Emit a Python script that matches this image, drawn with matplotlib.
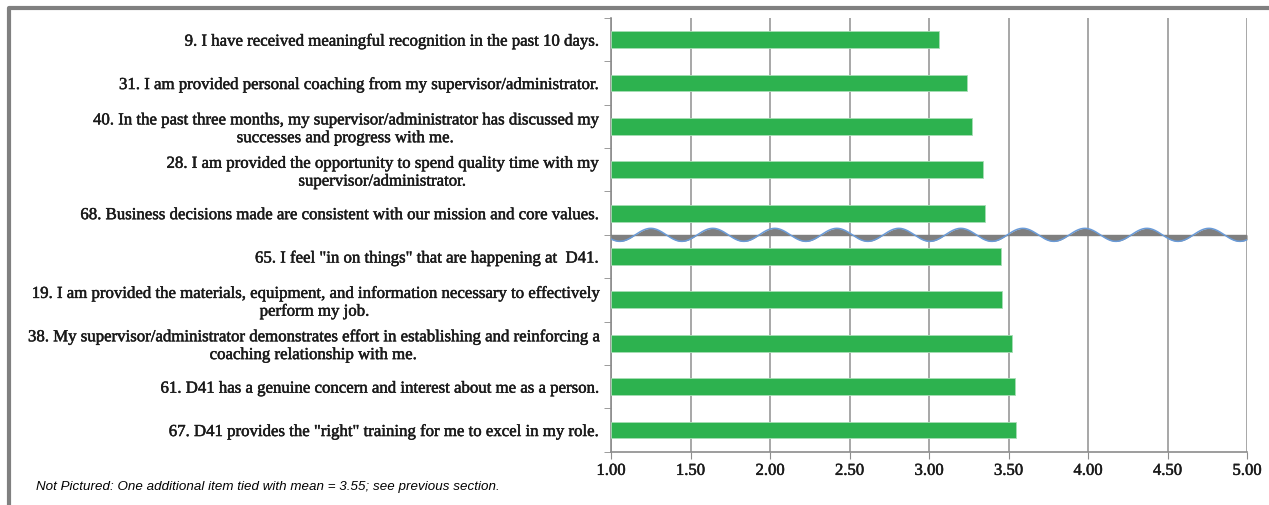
import numpy as np
import matplotlib.pyplot as plt
import matplotlib.patheffects as pe
from matplotlib.lines import Line2D

# Survey items, lowest mean at the top
items = [
    "9. I have received meaningful recognition in the past 10 days.",
    "31. I am provided personal coaching from my supervisor/administrator.",
    "40. In the past three months, my supervisor/administrator has discussed my\nsuccesses and progress with me.",
    "28. I am provided the opportunity to spend quality time with my\nsupervisor/administrator.",
    "68. Business decisions made are consistent with our mission and core values.",
    "65. I feel \"in on things\" that are happening at  D41.",
    "19. I am provided the materials, equipment, and information necessary to effectively\nperform my job.",
    "38. My supervisor/administrator demonstrates effort in establishing and reinforcing a\ncoaching relationship with me.",
    "61. D41 has a genuine concern and interest about me as a person.",
    "67. D41 provides the \"right\" training for me to excel in my role.",
]
means = [3.06, 3.24, 3.27, 3.34, 3.35, 3.45, 3.46, 3.52, 3.54, 3.55]

x_ticks = [1.00, 1.50, 2.00, 2.50, 3.00, 3.50, 4.00, 4.50, 5.00]
note = "Not Pictured: One additional item tied with mean = 3.55; see previous section."

fig = plt.figure(figsize=(12.69, 5.06), dpi=100)
ax = fig.add_axes([0.4815, 0.1053, 0.5012, 0.8572])

pos = np.arange(len(items))
ax.barh(pos, np.array(means) - 1, left=1, height=0.39, color="#2DB24F",
        edgecolor="#A8DDB5", linewidth=0.6, zorder=3)

# slightly heavier serif lettering
heavy = [pe.withStroke(linewidth=0.35, foreground="#1a1a1a")]

ax.set_xlim(1, 5)
ax.set_ylim(len(items) - 0.5, -0.5)
ax.set_xticks(x_ticks)
ax.set_xticklabels([f"{v:.2f}" for v in x_ticks], fontsize=12,
                   family="Liberation Serif", color="#1a1a1a")
ax.set_yticks(pos)
ax.set_yticklabels(items, fontsize=12.1, family="Liberation Serif",
                   multialignment="center", color="#1a1a1a", linespacing=1.15)
for t in ax.get_xticklabels() + ax.get_yticklabels():
    t.set_path_effects(heavy)
ax.tick_params(axis="y", length=0, pad=10)
ax.set_yticks(np.arange(len(items) + 1) - 0.5, minor=True)
ax.tick_params(axis="y", which="minor", length=5, color="#8c8c8c")
ax.tick_params(axis="x", length=5, color="#8c8c8c", pad=3)

ax.grid(axis="x", color="#a0a0a0", linewidth=1.3, zorder=1)
for s in ["top", "right"]:
    ax.spines[s].set_visible(False)
for s in ["left", "bottom"]:
    ax.spines[s].set_color("#8c8c8c")
    ax.spines[s].set_linewidth(1.2)

# wavy break marker between the two groups
xs = np.linspace(1, 5, 800)
base = 4.5
wave = base - 0.15 * np.cos(2 * np.pi * (xs - 1.25) / 0.39)
ax.fill_between(xs, base, wave, color="#7f7f7f", zorder=4, linewidth=0)
ax.plot([1, 5], [base, base], color="#7f7f7f", linewidth=1.0, zorder=4)
ax.plot(xs, wave, color="#6A9BD8", linewidth=1.1, zorder=5)

# outer frame
fig.add_artist(Line2D([8.7 / 1269, 8.7 / 1269, 1.0], [0.0, 1 - 9 / 506, 1 - 9 / 506],
                      transform=fig.transFigure, color="#808080", linewidth=3))

fig.text(36 / 1269, 1 - 487 / 506, note, fontsize=9.6, style="italic",
         family="Liberation Sans", va="center", ha="left")

fig.savefig("out.png", dpi=100)
